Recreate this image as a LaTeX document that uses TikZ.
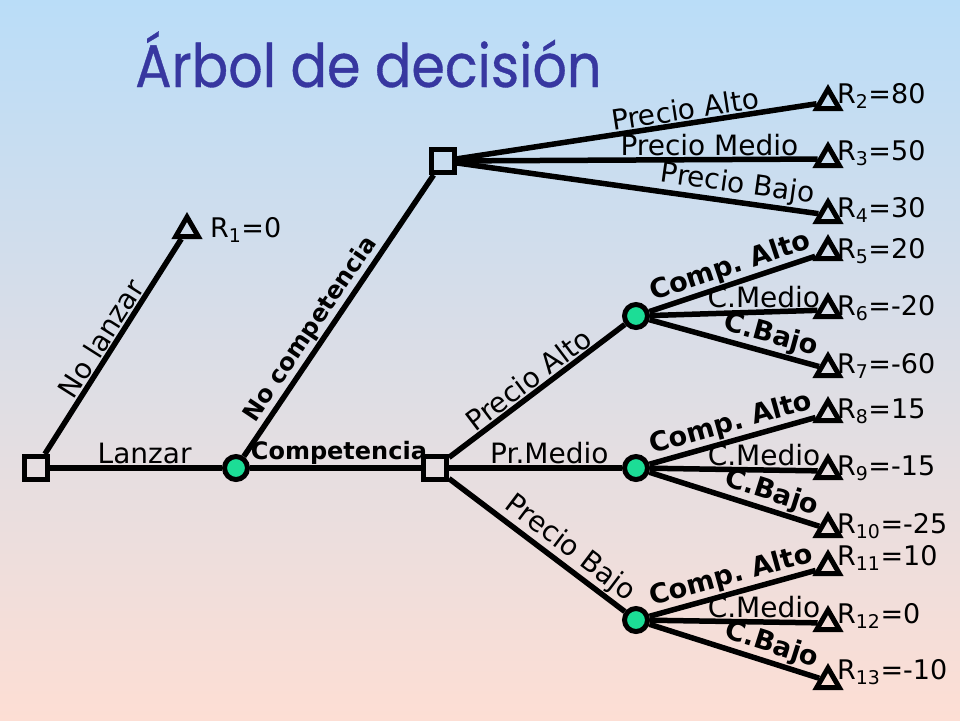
\documentclass[tikz,border=0pt]{standalone}
\usepackage{fontspec}
\setmainfont{DejaVu Sans}
\newfontfamily\titlefont[FakeBold=0.6]{Poppins}
\usetikzlibrary{shapes.geometric}
\definecolor{bgtop}{RGB}{186,221,248}
\definecolor{bgbot}{RGB}{253,222,212}
\definecolor{mint}{RGB}{28,221,150}
\definecolor{titleblue}{RGB}{55,55,160}
\frenchspacing
\begin{document}
\begin{tikzpicture}[x=1pt,y=-1pt,
  edge/.style={line width=5.5pt},
  dnode/.style={draw,line width=5pt,minimum size=23pt,inner sep=0pt},
  cnode/.style={circle,draw,fill=mint,line width=5pt,minimum size=23pt,inner sep=0pt},
  tnode/.style={regular polygon,regular polygon sides=3,draw,line width=5pt,minimum size=26pt,inner sep=0pt},
  lab/.style={font=\fontsize{28}{32}\selectfont,inner sep=1pt},
  blab/.style={font=\bfseries\fontsize{27}{32}\selectfont,inner sep=1pt},
  sblab/.style={font=\bfseries\fontsize{24}{28}\selectfont,inner sep=1pt},
  rlab/.style={font=\fontsize{27}{30}\selectfont,anchor=base west,inner sep=0pt}
]
\fill[top color=bgtop,bottom color=bgbot] (0,0) rectangle (960,720);
\useasboundingbox (0,0) rectangle (960,720);

\node[font=\titlefont\fontsize{60}{70}\selectfont,text=titleblue,anchor=base west,inner sep=0pt] (title) at (135,87) {\scalebox{0.9}[1]{Árbol de decisión}};

% decision / chance nodes
\node[dnode] (s1) at (36,468) {};
\node[cnode] (c0) at (236,468) {};
\node[dnode] (s2) at (435,468) {};
\node[dnode] (s3) at (443,161) {};
\node[cnode] (c1) at (636,316) {};
\node[cnode] (c2) at (636,468) {};
\node[cnode] (c3) at (636,620) {};

% terminal nodes
\node[tnode] (t1) at (187,230) {};
\node[tnode] (t2) at (828,102) {};
\node[tnode] (t3) at (828,159) {};
\node[tnode] (t4) at (828,215) {};
\node[tnode] (t5) at (828,252) {};
\node[tnode] (t6) at (828,310) {};
\node[tnode] (t7) at (828,369) {};
\node[tnode] (t8) at (828,414) {};
\node[tnode] (t9) at (828,471) {};
\node[tnode] (t10) at (828,529) {};
\node[tnode] (t11) at (828,567) {};
\node[tnode] (t12) at (828,623) {};
\node[tnode] (t13) at (828,681) {};

% result labels
\node[rlab] (l1) at ([xshift=23pt,yshift=-7pt]t1.center) {R\textsubscript{1}=0};
\node[rlab] (l2) at ([xshift=9pt,yshift=-1pt]t2.center) {R\textsubscript{2}=80};
\node[rlab] (l3) at ([xshift=9pt,yshift=-1pt]t3.center) {R\textsubscript{3}=50};
\node[rlab] (l4) at ([xshift=9pt,yshift=-2pt]t4.center) {R\textsubscript{4}=30};
\node[rlab] (l5) at ([xshift=9pt,yshift=-6pt]t5.center) {R\textsubscript{5}=20};
\node[rlab] (l6) at ([xshift=9pt,yshift=-5pt]t6.center) {R\textsubscript{6}=-20};
\node[rlab] (l7) at ([xshift=9pt,yshift=-4pt]t7.center) {R\textsubscript{7}=-60};
\node[rlab] (l8) at ([xshift=9pt,yshift=-4pt]t8.center) {R\textsubscript{8}=15};
\node[rlab] (l9) at ([xshift=9pt,yshift=-4pt]t9.center) {R\textsubscript{9}=-15};
\node[rlab] (l10) at ([xshift=9pt,yshift=-4pt]t10.center) {R\textsubscript{10}=-25};
\node[rlab] (l11) at ([xshift=9pt,yshift=2pt]t11.center) {R\textsubscript{11}=10};
\node[rlab] (l12) at ([xshift=9pt,yshift=0pt]t12.center) {R\textsubscript{12}=0};
\node[rlab] (l13) at ([xshift=9pt,yshift=2pt]t13.center) {R\textsubscript{13}=-10};

% connectors
\draw[edge] (s1) -- node[lab,sloped,above,pos=0.5] {No lanzar} (t1);
\draw[edge] (s1) -- node[lab,above,pos=0.55] {Lanzar} (c0);
\draw[edge] (c0) -- node[sblab,above,pos=0.52] {Competencia} (s2);
\draw[edge] (c0) -- node[sblab,sloped,above,pos=0.42] {No competencia} (s3);

\draw[edge] (s3) -- node[lab,sloped,above,pos=0.64] {Precio Alto} (t2);
\draw[edge] (s3) -- node[lab,above,pos=0.7] {Precio Medio} (t3);
\draw[edge] (s3) -- node[lab,sloped,above,pos=0.77] {Precio Bajo} (t4);

\draw[edge] (s2) -- node[lab,sloped,above,pos=0.5] {Precio Alto} (c1);
\draw[edge] (s2) -- node[lab,above,pos=0.58] {Pr.Medio} (c2);
\draw[edge] (s2) -- node[lab,sloped,above,pos=0.63] {Precio Bajo} (c3);

\draw[edge] (c1) -- node[blab,sloped,above,pos=0.52] {Comp. Alto} (t5);
\draw[edge] (c1) -- node[lab,above,pos=0.68] {C.Medio} (t6);
\draw[edge] (c1) -- node[blab,sloped,above,pos=0.69] {C.Bajo} (t7);

\draw[edge] (c2) -- node[blab,sloped,above,pos=0.52] {Comp. Alto} (t8);
\draw[edge] (c2) -- node[lab,above,pos=0.68] {C.Medio} (t9);
\draw[edge] (c2) -- node[blab,sloped,above,pos=0.69] {C.Bajo} (t10);

\draw[edge] (c3) -- node[blab,sloped,above,pos=0.52] {Comp. Alto} (t11);
\draw[edge] (c3) -- node[lab,above,pos=0.68] {C.Medio} (t12);
\draw[edge] (c3) -- node[blab,sloped,above,pos=0.69] {C.Bajo} (t13);
\end{tikzpicture}
\end{document}
